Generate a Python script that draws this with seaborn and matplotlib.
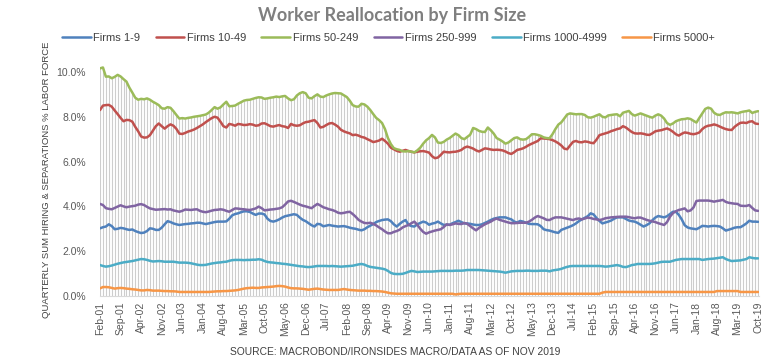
import numpy as np
import pandas as pd
import matplotlib
matplotlib.use('Agg')
import matplotlib.pyplot as plt
import seaborn as sns

# monthly, Feb-2001 .. Oct-2019
months = pd.date_range('2001-02-01', periods=225, freq='MS')

tick_labels = ['Feb-01', 'Sep-01', 'Apr-02', 'Nov-02', 'Jun-03', 'Jan-04', 'Aug-04',
               'Mar-05', 'Oct-05', 'May-06', 'Dec-06', 'Jul-07', 'Feb-08', 'Sep-08',
               'Apr-09', 'Nov-09', 'Jun-10', 'Jan-11', 'Aug-11', 'Mar-12', 'Oct-12',
               'May-13', 'Dec-13', 'Jul-14', 'Feb-15', 'Sep-15', 'Apr-16', 'Nov-16',
               'Jun-17', 'Jan-18', 'Aug-18', 'Mar-19', 'Oct-19']

# % of labor force
firms_1_9 = [
    3.02, 3.07, 3.10, 3.20, 3.12, 2.98, 3.00, 3.04, 3.02, 2.98, 2.95, 2.97, 2.90, 2.85, 2.81,
    2.83, 2.90, 3.02, 3.00, 2.95, 2.95, 3.05, 3.20, 3.34, 3.30, 3.24, 3.20, 3.17, 3.19, 3.21,
    3.22, 3.24, 3.25, 3.27, 3.27, 3.24, 3.21, 3.24, 3.27, 3.30, 3.32, 3.32, 3.32, 3.33, 3.45,
    3.60, 3.66, 3.69, 3.74, 3.78, 3.78, 3.75, 3.68, 3.62, 3.68, 3.68, 3.64, 3.45, 3.35, 3.32,
    3.36, 3.42, 3.50, 3.56, 3.59, 3.62, 3.65, 3.62, 3.50, 3.40, 3.34, 3.25, 3.16, 3.10, 3.22,
    3.20, 3.11, 3.14, 3.17, 3.14, 3.12, 3.10, 3.11, 3.12, 3.09, 3.05, 3.02, 3.00, 2.96, 2.93,
    2.98, 3.07, 3.14, 3.21, 3.30, 3.35, 3.39, 3.41, 3.42, 3.34, 3.20, 3.10, 3.22, 3.32, 3.39,
    3.18, 3.12, 3.10, 3.20, 3.26, 3.32, 3.28, 3.18, 3.23, 3.26, 3.32, 3.24, 3.17, 3.18, 3.18,
    3.25, 3.30, 3.36, 3.30, 3.24, 3.24, 3.22, 3.19, 3.17, 3.17, 3.20, 3.26, 3.32, 3.39, 3.45,
    3.48, 3.51, 3.51, 3.51, 3.46, 3.42, 3.32, 3.28, 3.35, 3.32, 3.27, 3.22, 3.21, 3.21, 3.20,
    3.12, 2.98, 2.94, 2.92, 2.88, 2.84, 2.82, 2.95, 3.00, 3.05, 3.10, 3.16, 3.24, 3.34, 3.42,
    3.49, 3.56, 3.69, 3.64, 3.48, 3.35, 3.24, 3.28, 3.32, 3.37, 3.45, 3.51, 3.51, 3.51, 3.44,
    3.37, 3.34, 3.32, 3.26, 3.18, 3.10, 3.16, 3.24, 3.38, 3.50, 3.57, 3.54, 3.51, 3.56, 3.66,
    3.76, 3.76, 3.62, 3.42, 3.16, 3.06, 3.02, 3.00, 2.98, 3.05, 3.13, 3.12, 3.10, 3.12, 3.13,
    3.12, 3.10, 3.02, 2.92, 2.96, 3.00, 3.05, 3.07, 3.07, 3.15, 3.24, 3.36, 3.32, 3.32, 3.31,
]

firms_10_49 = [
    8.30, 8.50, 8.52, 8.53, 8.45, 8.28, 8.12, 7.95, 7.80, 7.86, 7.85, 7.78, 7.55, 7.35, 7.12,
    7.07, 7.08, 7.18, 7.38, 7.58, 7.70, 7.58, 7.47, 7.58, 7.66, 7.60, 7.46, 7.25, 7.23, 7.28,
    7.34, 7.38, 7.43, 7.50, 7.58, 7.66, 7.76, 7.85, 7.94, 8.00, 7.96, 7.78, 7.58, 7.52, 7.68,
    7.65, 7.60, 7.68, 7.66, 7.63, 7.64, 7.67, 7.65, 7.60, 7.62, 7.70, 7.71, 7.65, 7.58, 7.56,
    7.60, 7.63, 7.58, 7.56, 7.50, 7.68, 7.62, 7.60, 7.62, 7.70, 7.76, 7.78, 7.82, 7.85, 7.72,
    7.52, 7.55, 7.63, 7.70, 7.72, 7.65, 7.56, 7.42, 7.35, 7.30, 7.26, 7.18, 7.20, 7.16, 7.10,
    7.07, 7.00, 6.94, 6.87, 6.90, 6.94, 7.02, 6.92, 6.80, 6.62, 6.55, 6.48, 6.44, 6.48, 6.52,
    6.47, 6.44, 6.41, 6.44, 6.46, 6.47, 6.44, 6.40, 6.24, 6.15, 6.18, 6.30, 6.44, 6.42, 6.41,
    6.43, 6.44, 6.47, 6.52, 6.62, 6.67, 6.63, 6.58, 6.50, 6.45, 6.52, 6.59, 6.57, 6.54, 6.52,
    6.53, 6.52, 6.50, 6.45, 6.38, 6.34, 6.42, 6.52, 6.55, 6.59, 6.66, 6.74, 6.80, 6.86, 6.92,
    7.04, 7.03, 7.02, 7.00, 6.96, 6.90, 6.82, 6.72, 6.58, 6.55, 6.72, 6.88, 6.92, 6.87, 6.86,
    6.90, 6.88, 6.84, 6.82, 6.98, 7.18, 7.22, 7.26, 7.30, 7.36, 7.40, 7.45, 7.48, 7.58, 7.52,
    7.42, 7.32, 7.26, 7.25, 7.26, 7.24, 7.20, 7.19, 7.26, 7.35, 7.38, 7.40, 7.44, 7.48, 7.42,
    7.33, 7.22, 7.16, 7.24, 7.30, 7.28, 7.24, 7.22, 7.25, 7.30, 7.45, 7.55, 7.60, 7.62, 7.66,
    7.62, 7.56, 7.50, 7.45, 7.42, 7.41, 7.55, 7.65, 7.73, 7.74, 7.72, 7.78, 7.80, 7.70, 7.68,
]

firms_50_249 = [
    10.16, 10.20, 9.79, 9.80, 9.72, 9.78, 9.87, 9.80, 9.68, 9.57, 9.30, 9.08, 8.85, 8.76, 8.80,
    8.78, 8.82, 8.76, 8.67, 8.60, 8.52, 8.38, 8.36, 8.43, 8.40, 8.25, 8.08, 7.92, 7.94, 7.92,
    7.95, 7.97, 8.00, 8.02, 8.04, 8.07, 8.10, 8.18, 8.30, 8.43, 8.36, 8.42, 8.55, 8.67, 8.47,
    8.48, 8.50, 8.58, 8.65, 8.72, 8.75, 8.76, 8.80, 8.84, 8.87, 8.86, 8.80, 8.82, 8.85, 8.87,
    8.90, 8.88, 8.91, 8.93, 8.82, 8.74, 8.78, 8.95, 9.05, 9.10, 9.05, 8.85, 8.82, 8.92, 9.00,
    8.90, 8.88, 8.95, 9.00, 9.04, 9.06, 9.05, 9.04, 8.96, 8.88, 8.72, 8.52, 8.46, 8.45, 8.58,
    8.55, 8.45, 8.30, 8.12, 7.95, 7.85, 7.72, 7.45, 7.05, 6.78, 6.60, 6.55, 6.52, 6.46, 6.45,
    6.47, 6.44, 6.41, 6.50, 6.62, 6.80, 6.95, 7.05, 7.19, 7.08, 6.85, 6.83, 6.88, 6.98, 7.05,
    7.15, 7.25, 7.18, 7.05, 7.00, 7.10, 7.20, 7.50, 7.45, 7.37, 7.33, 7.32, 7.52, 7.40, 7.25,
    7.05, 6.98, 6.90, 6.80, 6.85, 6.95, 7.05, 7.08, 7.00, 6.98, 7.00, 7.10, 7.22, 7.22, 7.19,
    7.15, 7.08, 7.05, 7.04, 7.22, 7.45, 7.65, 7.75, 7.92, 8.10, 8.15, 8.13, 8.11, 8.12, 8.12,
    8.08, 7.98, 7.96, 8.00, 8.06, 8.11, 8.00, 7.97, 8.06, 8.08, 8.10, 8.11, 8.02, 8.18, 8.22,
    8.26, 8.12, 8.05, 8.10, 8.15, 8.10, 8.05, 8.00, 7.96, 8.05, 8.11, 8.05, 7.92, 7.72, 7.64,
    7.70, 7.80, 7.85, 7.89, 7.90, 7.93, 7.90, 7.82, 7.74, 7.95, 8.15, 8.35, 8.41, 8.36, 8.18,
    8.10, 8.08, 8.15, 8.20, 8.19, 8.20, 8.18, 8.15, 8.20, 8.23, 8.25, 8.28, 8.17, 8.22, 8.25,
]

firms_250_999 = [
    4.11, 4.06, 3.92, 3.89, 3.87, 3.93, 3.99, 4.05, 4.00, 3.96, 3.99, 4.01, 4.03, 4.08, 4.10,
    4.06, 3.98, 3.91, 3.88, 3.85, 3.86, 3.87, 3.88, 3.86, 3.87, 3.82, 3.79, 3.76, 3.80, 3.86,
    3.85, 3.84, 3.86, 3.87, 3.80, 3.76, 3.74, 3.77, 3.81, 3.84, 3.85, 3.87, 3.85, 3.80, 3.76,
    3.84, 3.91, 3.90, 3.88, 3.87, 3.85, 3.84, 3.87, 3.91, 3.99, 3.92, 3.82, 3.84, 3.86, 3.87,
    3.89, 3.91, 3.96, 4.08, 4.22, 4.25, 4.20, 4.14, 4.08, 4.03, 4.00, 3.96, 3.92, 4.02, 4.11,
    4.04, 3.96, 3.92, 3.87, 3.84, 3.79, 3.72, 3.69, 3.71, 3.74, 3.76, 3.66, 3.54, 3.40, 3.32,
    3.26, 3.25, 3.27, 3.22, 3.15, 3.06, 2.98, 2.88, 2.80, 2.80, 2.86, 2.90, 2.96, 3.06, 3.12,
    3.17, 3.25, 3.32, 3.18, 3.00, 2.86, 2.78, 2.84, 2.88, 2.92, 2.95, 2.98, 3.08, 3.20, 3.17,
    3.20, 3.24, 3.22, 3.21, 3.26, 3.22, 3.12, 3.02, 2.93, 3.04, 3.12, 3.20, 3.26, 3.32, 3.40,
    3.46, 3.40, 3.36, 3.32, 3.28, 3.25, 3.25, 3.26, 3.27, 3.27, 3.27, 3.32, 3.40, 3.50, 3.57,
    3.52, 3.47, 3.40, 3.39, 3.46, 3.51, 3.51, 3.51, 3.48, 3.45, 3.42, 3.39, 3.44, 3.46, 3.42,
    3.46, 3.50, 3.48, 3.44, 3.42, 3.39, 3.42, 3.47, 3.49, 3.51, 3.52, 3.53, 3.54, 3.54, 3.54,
    3.52, 3.49, 3.47, 3.50, 3.50, 3.45, 3.40, 3.36, 3.33, 3.30, 3.25, 3.21, 3.17, 3.30, 3.54,
    3.70, 3.78, 3.84, 3.87, 3.91, 3.78, 3.82, 3.95, 4.24, 4.26, 4.26, 4.26, 4.26, 4.24, 4.21,
    4.24, 4.26, 4.29, 4.20, 4.16, 4.14, 4.12, 4.11, 4.03, 4.02, 4.02, 4.06, 3.93, 3.82, 3.80,
]

firms_1000_4999 = [
    1.38, 1.34, 1.31, 1.33, 1.36, 1.40, 1.44, 1.47, 1.50, 1.52, 1.54, 1.56, 1.59, 1.62, 1.65,
    1.64, 1.61, 1.57, 1.54, 1.55, 1.56, 1.55, 1.53, 1.53, 1.53, 1.53, 1.51, 1.49, 1.49, 1.49,
    1.48, 1.46, 1.43, 1.40, 1.38, 1.38, 1.39, 1.42, 1.45, 1.47, 1.49, 1.50, 1.52, 1.53, 1.57,
    1.60, 1.61, 1.61, 1.61, 1.60, 1.61, 1.61, 1.62, 1.62, 1.64, 1.62, 1.56, 1.52, 1.50, 1.49,
    1.47, 1.46, 1.44, 1.43, 1.41, 1.39, 1.37, 1.35, 1.33, 1.32, 1.30, 1.29, 1.30, 1.32, 1.34,
    1.34, 1.34, 1.34, 1.33, 1.34, 1.33, 1.32, 1.31, 1.32, 1.33, 1.34, 1.35, 1.38, 1.41, 1.43,
    1.40, 1.34, 1.30, 1.28, 1.26, 1.24, 1.22, 1.19, 1.12, 1.03, 0.99, 0.98, 0.98, 0.99, 1.03,
    1.08, 1.12, 1.10, 1.07, 1.08, 1.09, 1.09, 1.09, 1.09, 1.10, 1.11, 1.12, 1.12, 1.12, 1.12,
    1.12, 1.13, 1.13, 1.13, 1.14, 1.16, 1.16, 1.16, 1.16, 1.16, 1.15, 1.14, 1.13, 1.12, 1.11,
    1.10, 1.09, 1.07, 1.04, 1.07, 1.10, 1.11, 1.12, 1.12, 1.12, 1.13, 1.13, 1.12, 1.12, 1.12,
    1.13, 1.13, 1.13, 1.10, 1.14, 1.16, 1.18, 1.21, 1.26, 1.30, 1.33, 1.34, 1.34, 1.34, 1.34,
    1.34, 1.34, 1.34, 1.34, 1.34, 1.34, 1.33, 1.31, 1.32, 1.34, 1.36, 1.38, 1.35, 1.30, 1.29,
    1.33, 1.38, 1.40, 1.43, 1.43, 1.43, 1.43, 1.43, 1.44, 1.46, 1.49, 1.52, 1.53, 1.53, 1.53,
    1.57, 1.61, 1.63, 1.65, 1.65, 1.65, 1.65, 1.65, 1.65, 1.65, 1.61, 1.63, 1.65, 1.66, 1.67,
    1.69, 1.71, 1.73, 1.65, 1.60, 1.56, 1.57, 1.58, 1.59, 1.62, 1.65, 1.73, 1.70, 1.68, 1.68,
]

firms_5000_plus = [
    0.34, 0.40, 0.40, 0.39, 0.36, 0.33, 0.35, 0.36, 0.35, 0.33, 0.32, 0.30, 0.29, 0.27, 0.25,
    0.25, 0.27, 0.26, 0.24, 0.24, 0.24, 0.23, 0.22, 0.22, 0.21, 0.21, 0.20, 0.18, 0.18, 0.18,
    0.18, 0.18, 0.18, 0.18, 0.18, 0.18, 0.18, 0.18, 0.19, 0.20, 0.21, 0.21, 0.22, 0.22, 0.23,
    0.24, 0.25, 0.27, 0.30, 0.33, 0.35, 0.36, 0.37, 0.36, 0.36, 0.38, 0.39, 0.40, 0.41, 0.42,
    0.44, 0.45, 0.44, 0.42, 0.38, 0.35, 0.34, 0.34, 0.33, 0.32, 0.30, 0.28, 0.30, 0.32, 0.33,
    0.31, 0.29, 0.28, 0.27, 0.27, 0.27, 0.27, 0.29, 0.31, 0.29, 0.27, 0.26, 0.25, 0.24, 0.24,
    0.24, 0.23, 0.23, 0.22, 0.22, 0.21, 0.20, 0.18, 0.15, 0.12, 0.11, 0.10, 0.10, 0.10, 0.10,
    0.10, 0.10, 0.10, 0.10, 0.10, 0.10, 0.10, 0.10, 0.10, 0.10, 0.10, 0.10, 0.10, 0.10, 0.10,
    0.10, 0.07, 0.09, 0.10, 0.10, 0.10, 0.10, 0.10, 0.10, 0.10, 0.10, 0.10, 0.10, 0.10, 0.10,
    0.10, 0.10, 0.10, 0.10, 0.10, 0.10, 0.10, 0.10, 0.10, 0.10, 0.10, 0.10, 0.10, 0.10, 0.10,
    0.10, 0.10, 0.10, 0.10, 0.10, 0.10, 0.10, 0.10, 0.10, 0.10, 0.10, 0.10, 0.10, 0.10, 0.10,
    0.10, 0.10, 0.10, 0.10, 0.10, 0.10, 0.15, 0.18, 0.18, 0.18, 0.18, 0.18, 0.18, 0.18, 0.18,
    0.18, 0.18, 0.18, 0.18, 0.18, 0.18, 0.18, 0.18, 0.18, 0.18, 0.18, 0.18, 0.18, 0.18, 0.18,
    0.18, 0.18, 0.18, 0.18, 0.18, 0.18, 0.18, 0.18, 0.18, 0.18, 0.18, 0.18, 0.18, 0.18, 0.18,
    0.22, 0.22, 0.22, 0.22, 0.22, 0.22, 0.22, 0.22, 0.18, 0.18, 0.18, 0.18, 0.18, 0.18, 0.18,
]

series_names = ['Firms 1-9', 'Firms 10-49', 'Firms 50-249', 'Firms 250-999',
                'Firms 1000-4999', 'Firms 5000+']
series_values = [firms_1_9, firms_10_49, firms_50_249, firms_250_999,
                 firms_1000_4999, firms_5000_plus]
colors = ['#4F81BD', '#C0504D', '#9BBB59', '#8064A2', '#4BACC6', '#F79646']

for name, vals in zip(series_names, series_values):
    assert len(vals) == len(months), (name, len(vals))

df = pd.DataFrame(dict(zip(series_names, series_values)))
df['idx'] = np.arange(len(months))
long_df = df.melt(id_vars='idx', var_name='series', value_name='pct')

sns.set_theme(style='white')
plt.rcParams['font.family'] = ['Liberation Sans', 'DejaVu Sans']

W, H = 777, 364
fig = plt.figure(figsize=(W / 100, H / 100), dpi=100)
ax = fig.add_axes([100 / W, (H - 296) / H, (759 - 100) / W, (296 - 63) / H])

# drop lines (grey vertical line at every month, up to the highest series)
top = df[series_names].max(axis=1)
ax.vlines(df['idx'], 0, top, color='#cdcdcd', lw=0.8, zorder=1)

sns.lineplot(data=long_df, x='idx', y='pct', hue='series', hue_order=series_names,
             palette=dict(zip(series_names, colors)), lw=1.8, ax=ax, zorder=3)

ax.set_xlim(0, 224.3)
ax.set_ylim(0, 10.4)
ax.set_yticks(np.arange(0, 11, 2))
ax.set_yticklabels([f'{v:.1f}%' for v in np.arange(0, 11, 2)])
ax.set_xticks(np.arange(0, 225, 7))
ax.set_xticklabels(tick_labels, rotation=90)
ax.tick_params(axis='both', length=0, labelsize=7.5, colors='#595959')
ax.tick_params(axis='x', pad=4)
ax.tick_params(axis='y', pad=10)
ax.set_xlabel('')
ax.set_ylabel('QUARTERLY SUM HIRING & SEPARATIONS % LABOR FORCE',
              fontsize=6.8, color='#404040', labelpad=4)
for side in ['left', 'right', 'top']:
    ax.spines[side].set_visible(False)
ax.spines['bottom'].set_color('#d9d9d9')
ax.spines['bottom'].set_linewidth(0.8)
ax.grid(False)

sns.move_legend(ax, 'center', bbox_to_anchor=(0.5, 1 - 38 / H),
                bbox_transform=fig.transFigure, ncol=6, frameon=False, title=None,
                fontsize=8, handlelength=2.6, columnspacing=1.4, handletextpad=0.2)
for t in ax.get_legend().get_texts():
    t.set_color('#404040')

fig.text(0.505, 1 - 16 / H, 'Worker Reallocation by Firm Size', ha='center', va='center',
         fontsize=13, fontweight='bold', color='#7f7f7f', family=['Lato', 'DejaVu Sans'])
fig.text(0.508, 1 - 352 / H, 'SOURCE: MACROBOND/IRONSIDES MACRO/DATA AS OF NOV 2019',
         ha='center', va='center', fontsize=7.4, color='#404040')

fig.savefig('out.png', dpi=100)
